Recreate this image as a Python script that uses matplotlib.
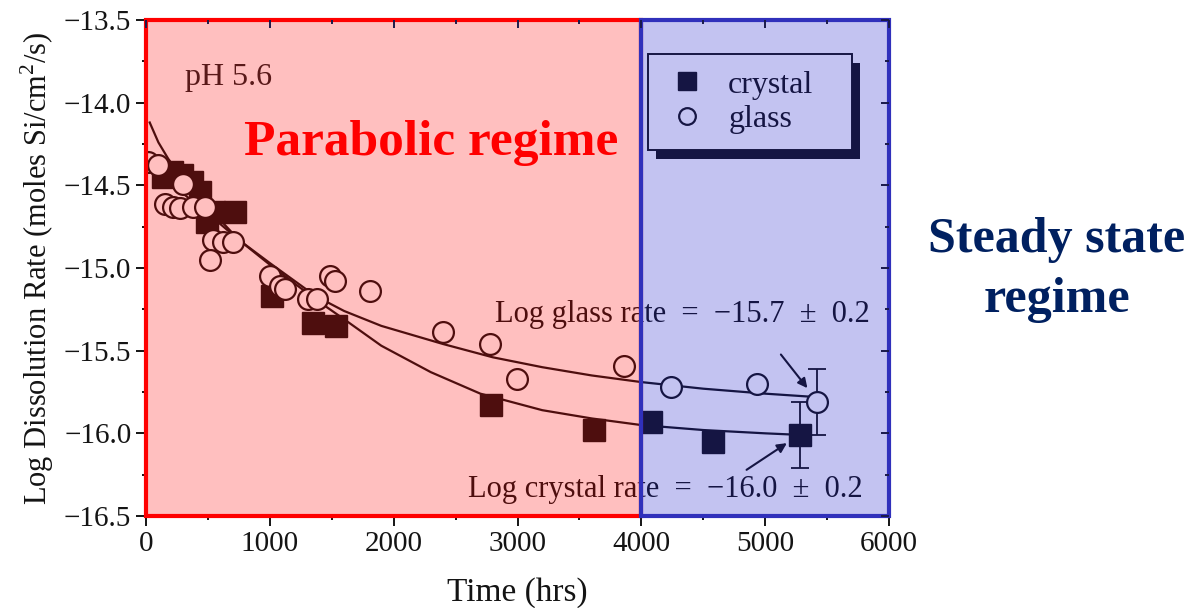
import numpy as np
import matplotlib
matplotlib.use("Agg")
import matplotlib.pyplot as plt
from matplotlib.patches import Rectangle
from matplotlib.ticker import MultipleLocator

plt.rcParams['font.family'] = ['Liberation Serif', 'DejaVu Serif']
plt.rcParams['mathtext.fontset'] = 'custom'
plt.rcParams['mathtext.rm'] = 'Liberation Serif'

# ------------------------------------------------------------
# Si dissolution rate vs time, pH 5.6 (crystal vs glass)
# ------------------------------------------------------------

# Measured rates: crystal (filled squares)
crystal_t = [137, 210, 290, 371, 435, 492, 548, 718, 1016, 1347, 1532,
             2782, 3621, 4081, 4581, 5282]
crystal_rate = [-14.45, -14.42, -14.44, -14.48, -14.54, -14.72, -14.66, -14.66,
                -15.17, -15.33, -15.35, -15.83, -15.98, -15.93, -16.05, -16.01]

# Measured rates: glass (open circles)
glass_t = [16, 97, 298, 153, 218, 274, 379, 476, 540, 516, 621, 702,
           1000, 1081, 1121, 1310, 1380, 1484, 1524, 1806,
           2395, 2774, 2992, 3863, 4242, 4935, 5419]
glass_rate = [-14.36, -14.38, -14.49, -14.61, -14.63, -14.64, -14.63, -14.63,
              -14.83, -14.95, -14.84, -14.84,
              -15.05, -15.11, -15.13, -15.19, -15.19, -15.05, -15.08, -15.14,
              -15.39, -15.46, -15.67, -15.59, -15.72, -15.70, -15.81]

# Fitted trend lines
crystal_fit_t = [30, 100, 180, 250, 350, 500, 750, 1000, 1370, 1600, 1900,
                 2300, 2700, 3200, 3600, 4000, 4500, 5000, 5300]
crystal_fit = [-14.12, -14.24, -14.34, -14.41, -14.50, -14.63, -14.83, -14.98,
               -15.19, -15.31, -15.47, -15.63, -15.76, -15.86, -15.91, -15.95,
               -15.98, -16.00, -16.01]
glass_fit_t = [0, 250, 500, 750, 1000, 1370, 1600, 1900, 2400, 2800, 3200,
               3600, 4000, 4500, 5000, 5400]
glass_fit = [-14.35, -14.52, -14.67, -14.83, -14.97, -15.17, -15.26, -15.35,
             -15.46, -15.54, -15.60, -15.65, -15.69, -15.73, -15.76, -15.78]

# Steady-state rates with uncertainty
glass_ss = -15.7
crystal_ss = -16.0
ss_err = 0.2

# Regime split (hrs)
t_split = 4000

ink = '#141414'

fig = plt.figure(figsize=(12.04, 6.08), dpi=100)
ax = fig.add_axes([146 / 1204, 1 - 516 / 608, 743 / 1204, 496 / 608])

ax.plot(crystal_fit_t, crystal_fit, color=ink, lw=1.6, zorder=2)
ax.plot(glass_fit_t, glass_fit, color=ink, lw=1.6, zorder=2)

ax.plot(crystal_t, crystal_rate, 's', color=ink, ms=15.5, ls='none',
        label='crystal', zorder=3)
ax.plot(glass_t, glass_rate, 'o', mfc='white', mec=ink, mew=1.6, ms=15,
        ls='none', label='glass', zorder=3)

# error bars on the last point of each series
ax.errorbar(crystal_t[-1], crystal_rate[-1], yerr=ss_err, color=ink,
            lw=1.3, capsize=6.5, capthick=1.3, zorder=2.5)
ax.errorbar(glass_t[-1], glass_rate[-1], yerr=ss_err, color=ink,
            lw=1.3, capsize=6.5, capthick=1.3, zorder=2.5)

ax.set_xlim(0, 6000)
ax.set_ylim(-16.5, -13.5)
ax.xaxis.set_major_locator(MultipleLocator(1000))
ax.xaxis.set_minor_locator(MultipleLocator(500))
ax.yaxis.set_major_locator(MultipleLocator(0.5))
ax.yaxis.set_minor_locator(MultipleLocator(0.25))
ax.yaxis.set_major_formatter(plt.FuncFormatter(lambda v, p: f'\u2212{abs(v):.1f}'))
ax.tick_params(which='both', direction='out', width=1.4, labelsize=21,
               colors=ink)
ax.tick_params(which='major', length=7)
ax.tick_params(which='minor', length=3)
for s in ax.spines.values():
    s.set_linewidth(1.4)
    s.set_color(ink)

# inward ticks on the top and right frame
ax_top = ax.twiny()
ax_top.set_xlim(ax.get_xlim())
ax_top.xaxis.set_major_locator(MultipleLocator(1000))
ax_top.xaxis.set_minor_locator(MultipleLocator(500))
ax_top.tick_params(axis='x', which='both', direction='in', top=True,
                   bottom=False, labeltop=False, width=1.4, colors='#1a1a4a')
ax_top.tick_params(axis='x', which='major', length=6)
ax_top.tick_params(axis='x', which='minor', length=3)
ax_right = ax.twinx()
ax_right.set_ylim(ax.get_ylim())
ax_right.yaxis.set_major_locator(MultipleLocator(0.5))
ax_right.yaxis.set_minor_locator(MultipleLocator(0.25))
ax_right.tick_params(axis='y', which='both', direction='in', right=True,
                     left=False, labelright=False, width=1.4, colors='#1a1a4a')
ax_right.tick_params(axis='y', which='major', length=6)
ax_right.tick_params(axis='y', which='minor', length=3)
for tw in (ax_top, ax_right):
    tw.patch.set_visible(False)
    for s in tw.spines.values():
        s.set_visible(False)

ax.set_xlabel('Time (hrs)', fontsize=24, labelpad=15, color=ink)
ax.set_ylabel('Log Dissolution Rate (moles Si/cm$^{\\mathrm{2}}$/s)',
              fontsize=22, labelpad=6, color=ink)

ax.text(315, -13.85, 'pH 5.6', fontsize=23, color='#222222', va='center')

ax.text(4331, -15.28, 'Log glass rate\u2002=\u2002\u2212' + f'{abs(glass_ss):.1f}' +
        '\u2002\u00b1\u2002' + f'{ss_err:.1f}', fontsize=22, color=ink,
        ha='center', va='center')
ax.text(4194, -16.34, 'Log crystal rate\u2002=\u2002\u2212' + f'{abs(crystal_ss):.1f}' +
        '\u2002\u00b1\u2002' + f'{ss_err:.1f}', fontsize=22, color=ink,
        ha='center', va='center')

ax.annotate('', xy=(5355, -15.74), xytext=(5113, -15.51),
            arrowprops=dict(arrowstyle='-|>', color=ink, lw=1.5,
                            mutation_scale=14))
ax.annotate('', xy=(5194, -16.05), xytext=(4831, -16.23),
            arrowprops=dict(arrowstyle='-|>', color=ink, lw=1.5,
                            mutation_scale=14))

leg_w = 204 / 743
leg_h = 96 / 496
leg = ax.legend(loc='upper left', bbox_to_anchor=(0.676, 0.931 - leg_h, leg_w, leg_h),
                mode='expand', borderaxespad=0, fontsize=23, frameon=True,
                fancybox=False, markerscale=0.8, handletextpad=0.6,
                labelspacing=0.15, borderpad=0.5, handlelength=1.4)
leg.get_frame().set_edgecolor(ink)
leg.get_frame().set_linewidth(1.4)
leg.get_frame().set_alpha(1)
for t in leg.get_texts():
    t.set_color(ink)

# solid drop shadow behind the legend box
fig.canvas.draw()
bb = leg.get_frame().get_window_extent()
inv = ax.transAxes.inverted()
(sx0, sy0) = inv.transform((bb.x0 + 8, bb.y0 - 9))
(sx1, sy1) = inv.transform((bb.x1 + 8, bb.y1 - 9))
ax.add_patch(Rectangle((sx0, sy0), sx1 - sx0, sy1 - sy0, transform=ax.transAxes,
                       facecolor=ink, edgecolor='none', zorder=4.9,
                       clip_on=False))

# regime shading
ax.add_patch(Rectangle((0, -16.5), t_split, 3.0, facecolor=(1, 0, 0, 0.25),
                       edgecolor='#ff0000', lw=3, zorder=20, clip_on=False))
ax.add_patch(Rectangle((t_split, -16.5), 6000 - t_split, 3.0,
                       facecolor=(0.1, 0.1, 0.8, 0.26), edgecolor='#3030bb',
                       lw=3, zorder=20, clip_on=False))

fig.text(431 / 1204, 1 - 143 / 608, 'Parabolic regime', color='#ff0000',
         fontsize=37, fontweight='bold', ha='center', va='center')
fig.text(1057 / 1204, 1 - 270 / 608, 'Steady state\nregime', color='#002060',
         fontsize=36, fontweight='bold', ha='center', va='center',
         linespacing=1.4)

fig.savefig('out.png', dpi=100)
